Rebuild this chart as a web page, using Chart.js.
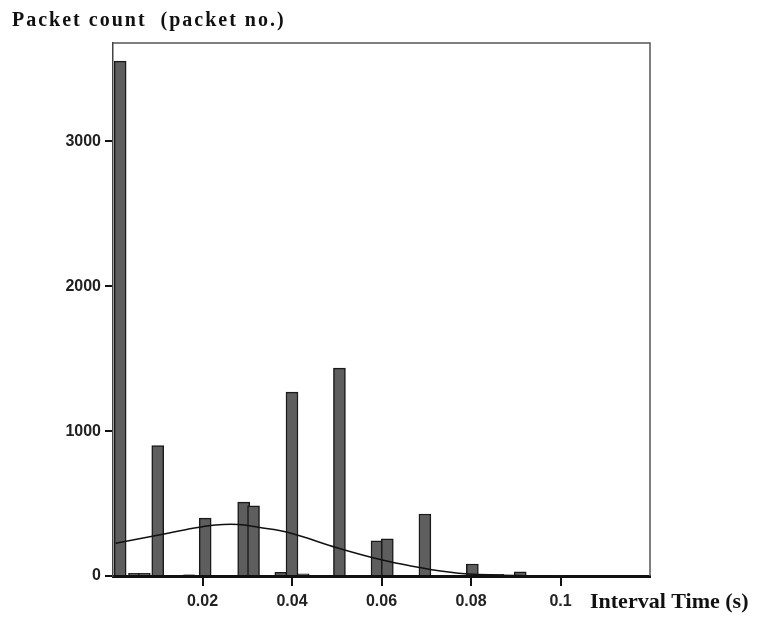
<!DOCTYPE html>
<html>
<head>
<meta charset="utf-8">
<script src="https://cdn.jsdelivr.net/npm/chart.js@4.4.1/dist/chart.umd.min.js"></script>
<style>
	html, body { margin: 0; padding: 0; background: #fff; }
	#wrap { width: 757px; height: 622px; }
</style>
</head>
<body>
<div id="wrap"><canvas id="histChart" width="757" height="622"></canvas></div>
<script>
	// histogram bins (interval time in s) and packet counts
	const binCenters = [0.0016, 0.0048, 0.0070, 0.0100, 0.0170, 0.0206, 0.0292, 0.0314, 0.0375, 0.0400, 0.0425, 0.0506, 0.0590, 0.0613, 0.0697, 0.0803, 0.0835, 0.0860, 0.0910, 0.0995];
	const binCounts = [3555, 18, 18, 900, 8, 400, 510, 484, 25, 1270, 15, 1435, 242, 256, 428, 83, 12, 12, 28, 5];

	// fitted curve, points
	const curveX = [0.0006, 0.0117, 0.0162, 0.0229, 0.0280, 0.0325, 0.0392, 0.0504, 0.0602, 0.0669, 0.0750, 0.0794, 0.0900, 0.1000, 0.1200];
	const curveY = [226, 292, 320, 352, 356, 336, 300, 192, 110, 68, 27, 14, 3, 0, 0];

	const xTicks = [0.02, 0.04, 0.06, 0.08, 0.1];
	const yTicks = [0, 1000, 2000, 3000];

	let bars = binCenters.map(function(x, i) {
		return { x: x, y: binCounts[i] };
	});
	let curve = curveX.map(function(x, i) {
		return { x: x, y: curveY[i] };
	});

	// frame on top and right side + axis titles
	let framePlugin = {
		id: 'frame',
		afterDraw: function(chart) {
			let ctx = chart.ctx;
			let a = chart.chartArea;
			ctx.save();
			ctx.strokeStyle = '#555';
			ctx.lineWidth = 1.5;
			ctx.beginPath();
			ctx.moveTo(a.left, a.top);
			ctx.lineTo(a.right, a.top);
			ctx.lineTo(a.right, a.bottom);
			ctx.stroke();

			ctx.fillStyle = '#111';
			ctx.textBaseline = 'alphabetic';
			ctx.font = 'bold 20px "Liberation Serif"';
			ctx.letterSpacing = '2px';
			ctx.fillText('Packet count  (packet no.)', 12, 26);
			ctx.font = 'bold 22px "Liberation Serif"';
			ctx.letterSpacing = '0px';
			ctx.fillText('Interval Time (s)', 590, 608);
			ctx.restore();
		}
	};

	let ctx = document.getElementById('histChart');
	let histChart = new Chart(ctx, {
		type: 'bar',
		data: {
			datasets: [{
				type: 'line',
				data: curve,
				borderColor: '#111',
				borderWidth: 1.5,
				pointRadius: 0,
				tension: 0.4,
				fill: false,
				order: 0
			}, {
				type: 'bar',
				data: bars,
				backgroundColor: '#5e5e5e',
				borderColor: '#1a1a1a',
				borderWidth: 1.5,
				barThickness: 12,
				order: 1
			}]
		},
		options: {
			responsive: false,
			animation: false,
			events: [],
			layout: {
				padding: { top: 43, right: 107, left: 0, bottom: 0 }
			},
			plugins: {
				legend: { display: false },
				tooltip: { enabled: false }
			},
			scales: {
				x: {
					type: 'linear',
					min: 0,
					max: 0.12,
					offset: false,
					afterBuildTicks: function(scale) {
						scale.ticks = xTicks.map(function(v) { return { value: v }; });
					},
					afterFit: function(scale) {
						scale.height = 46;
					},
					ticks: {
						color: '#222',
						font: { family: 'Liberation Sans', size: 16, weight: 'bold' },
						padding: 6,
						maxRotation: 0,
						callback: function(v) { return String(v); }
					},
					grid: {
						offset: false,
						drawOnChartArea: false,
						drawTicks: true,
						tickLength: 10,
						color: '#111',
						lineWidth: 2
					},
					border: { display: true, color: '#111', width: 3 }
				},
				y: {
					type: 'linear',
					min: 0,
					max: 3680,
					afterBuildTicks: function(scale) {
						scale.ticks = yTicks.map(function(v) { return { value: v }; });
					},
					afterFit: function(scale) {
						scale.width = 113;
					},
					ticks: {
						color: '#222',
						font: { family: 'Liberation Sans', size: 16, weight: 'bold' },
						padding: 4,
						callback: function(v) { return String(v); }
					},
					grid: {
						offset: false,
						drawOnChartArea: false,
						drawTicks: true,
						tickLength: 8,
						color: '#111',
						lineWidth: 2
					},
					border: { display: true, color: '#444', width: 1.5 }
				}
			}
		},
		plugins: [framePlugin]
	});
</script>
</body>
</html>
